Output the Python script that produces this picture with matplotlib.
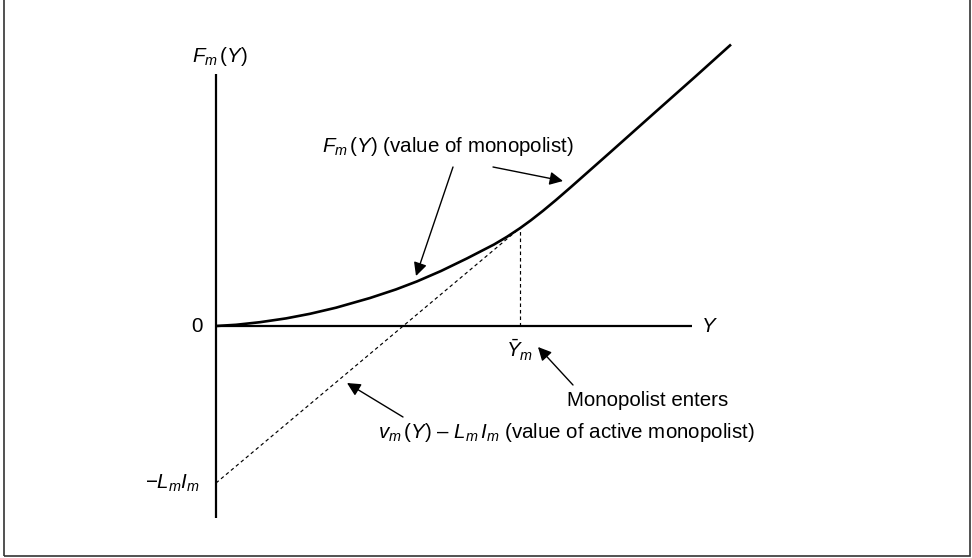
import matplotlib
matplotlib.use("Agg")
import matplotlib.pyplot as plt
from matplotlib.patches import Rectangle

plt.rcParams['font.family'] = ['Liberation Sans', 'DejaVu Sans']
plt.rcParams['mathtext.fontset'] = 'custom'
plt.rcParams['mathtext.rm'] = 'Liberation Sans'
plt.rcParams['mathtext.it'] = 'Liberation Sans:italic'

# value of the monopolist, F_m(Y)
curve_y = [0, 20, 44, 70, 94, 120, 154, 180, 201, 225, 251, 278, 291, 304,
           315, 327, 340, 355, 394, 440, 480, 515]
curve_f = [0, 1.2, 3.8, 7.6, 12.2, 18.3, 28, 36.6, 44.6, 55, 67.6, 81.5,
           89.2, 97.8, 105.8, 115.2, 126, 139, 173.5, 214.5, 250, 281.5]

# entry threshold and the active-monopolist line v_m(Y) - L_m I_m
y_bar = 304
f_at_entry = 98
sunk_cost = -157

y_axis_end = 476
v_axis_top = 252
v_axis_bottom = -192

fs = 14.8
fig = plt.figure(figsize=(9.72, 5.58), dpi=100)
ax = fig.add_axes([0, 0, 1, 1])
ax.set_xlim(-216, 756)
ax.set_ylim(-232, 326)
ax.axis('off')

# outer frame (top edge runs off the canvas)
fig.patches.append(Rectangle((4 / 972, 2 / 558), 966 / 972, 1.2,
                             transform=fig.transFigure, fill=False,
                             edgecolor='#333333', lw=1.2))

# axes
ax.plot([0, 0], [v_axis_bottom, v_axis_top], color='black', lw=1.6,
        solid_capstyle='butt')
ax.plot([0, y_axis_end], [0, 0], color='black', lw=1.6, solid_capstyle='butt')

# dashed tangent line and drop to the threshold
ax.plot([0, y_bar], [sunk_cost, f_at_entry], color='black', lw=0.85,
        dashes=(3, 2.5))
ax.plot([y_bar, y_bar], [0, f_at_entry], color='black', lw=0.85,
        dashes=(3, 2.5))

# value function
ax.plot(curve_y, curve_f, color='black', lw=1.9, solid_capstyle='butt',
        solid_joinstyle='round')

# labels
ax.text(-19, 0, '0', fontsize=fs, ha='center', va='center')
ax.text(493, 0, '$Y$', fontsize=fs, ha='center', va='center')
ax.text(-24, 270, '$F_m\\,(Y)$', fontsize=fs, ha='left', va='center')
ax.text(y_bar, -24, '$\\bar{Y}_m$', fontsize=fs, ha='center', va='center')
ax.text(-16, sunk_cost, '$-L_m I_m$', fontsize=fs, ha='right', va='center')

arrow = dict(arrowstyle='-|>', color='black', lw=1.0, mutation_scale=20,
             shrinkA=0, shrinkB=0)

ax.text(106, 179, '$F_m\\,(Y)$ (value of monopolist)', fontsize=fs,
        ha='left', va='center')
ax.annotate('', xy=(200, 50), xytext=(237, 159), arrowprops=arrow)
ax.annotate('', xy=(347, 145), xytext=(277, 159), arrowprops=arrow)

ax.text(351, -74, 'Monopolist enters', fontsize=fs, ha='left', va='center')
ax.annotate('', xy=(322, -21), xytext=(357, -59), arrowprops=arrow)

ax.text(162, -107, '$v_m\\,(Y)$ – $L_m\\,I_m$ (value of active monopolist)',
        fontsize=fs, ha='left', va='center')
ax.annotate('', xy=(131, -57), xytext=(187, -91), arrowprops=arrow)

fig.savefig('out.png', dpi=100, facecolor='white')
